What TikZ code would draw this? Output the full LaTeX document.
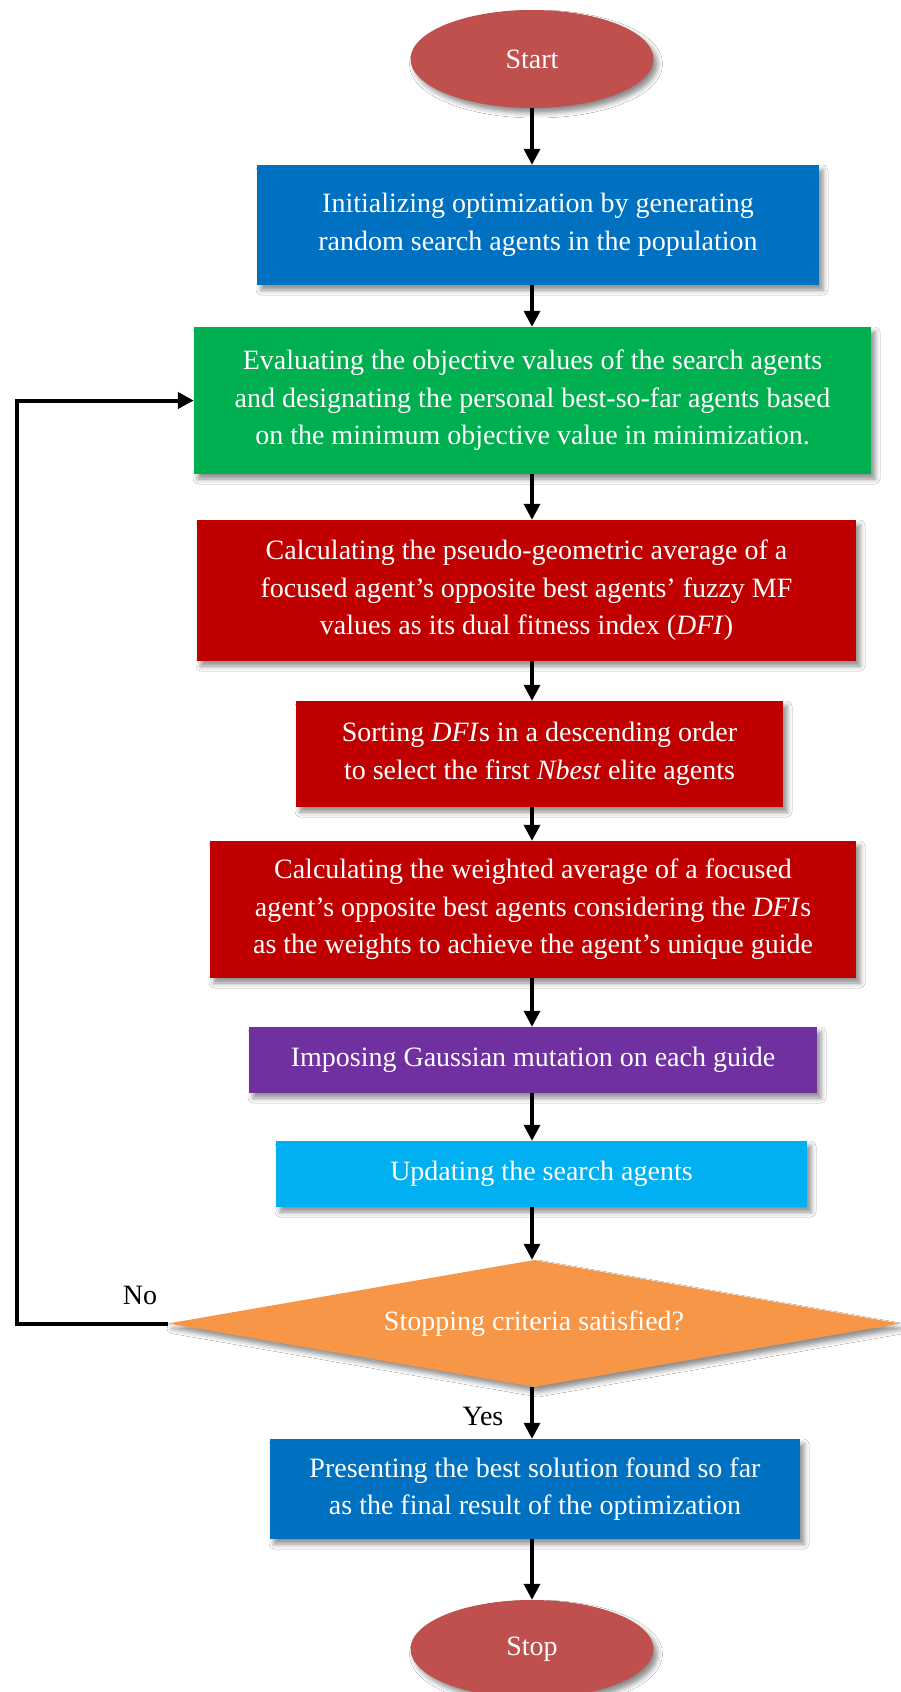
\documentclass[tikz,border=0pt]{standalone}
\usepackage{fontspec}
\setmainfont{Liberation Serif}
\usetikzlibrary{shapes.geometric,arrows.meta,shadows.blur}
\definecolor{cterm}{HTML}{C0504D}
\definecolor{cblue}{HTML}{0070C0}
\definecolor{cgreen}{HTML}{00B050}
\definecolor{cred}{HTML}{C00000}
\definecolor{cpurple}{HTML}{7030A0}
\definecolor{ccyan}{HTML}{00B0F0}
\definecolor{corange}{HTML}{F79646}
\begin{document}
\begin{tikzpicture}[x=1pt,y=1pt,
  every node/.style={font=\fontsize{28}{37.5}\selectfont},
  shd/.style={blur shadow={shadow xshift=4pt, shadow yshift=-5pt, shadow blur radius=5pt, shadow opacity=45}},
  boxnode/.style={rectangle, text=white, align=center, inner sep=0pt, shd},
  term/.style={ellipse, fill=cterm, text=white, minimum width=243pt, minimum height=98pt, inner sep=0pt, shd},
  flow/.style={line width=3.4pt, -{Triangle[width=16pt,length=16pt]}},
  loopline/.style={line width=4pt, line join=miter, -{Triangle[width=16pt,length=16pt]}},
]
\useasboundingbox[fill=white] (0,0) rectangle (901,-1692);
\coordinate (ax) at (532,0);
\coordinate (lp) at (17,0);

\node[term] (start) at (532,-59) {Start};
\node[boxnode, fill=cblue, minimum width=562pt, minimum height=120pt] (b1) at (538,-225)
  {Initializing optimization by generating\\random search agents in the population};
\node[boxnode, fill=cgreen, minimum width=677pt, minimum height=147pt] (b2) at (532.5,-400.5)
  {Evaluating the objective values of the search agents\\and designating the personal best-so-far agents based\\on the minimum objective value in minimization.};
\node[boxnode, fill=cred, minimum width=659pt, minimum height=141pt] (b3) at (526.5,-590.5)
  {Calculating the pseudo-geometric average of a\\focused agent's opposite best agents' fuzzy MF\\values as its dual fitness index (\textit{DFI})};
\node[boxnode, fill=cred, minimum width=487pt, minimum height=106pt] (b4) at (539.5,-754)
  {Sorting \textit{DFI}s in a descending order\\to select the first \textit{Nbest} elite agents};
\node[boxnode, fill=cred, minimum width=646pt, minimum height=137pt] (b5) at (533,-909.5)
  {Calculating the weighted average of a focused\\agent's opposite best agents considering the \textit{DFI}s\\as the weights to achieve the agent's unique guide};
\node[boxnode, fill=cpurple, minimum width=568pt, minimum height=66pt] (b6) at (533,-1060)
  {Imposing Gaussian mutation on each guide};
\node[boxnode, fill=ccyan, minimum width=531pt, minimum height=66pt] (b7) at (541.5,-1174)
  {Updating the search agents};
\node[diamond, fill=corange, text=white, minimum width=732pt, minimum height=127pt, inner sep=0pt, shd] (dec) at (534,-1323.5)
  {\makebox[0pt]{Stopping criteria satisfied?}};
\node[boxnode, fill=cblue, minimum width=530pt, minimum height=100pt] (b8) at (535,-1489)
  {Presenting the best solution found so far\\as the final result of the optimization};
\node[term] (stop) at (532,-1649) {Stop};

\node (no) at (140,-1295) {No};
\node (yes) at (483,-1416) {Yes};

\draw[flow] (start) -- (start |- b1.north);
\draw[flow] (b1.south -| ax) -- (b2.north -| ax);
\draw[flow] (b2.south -| ax) -- (b3.north -| ax);
\draw[flow] (b3.south -| ax) -- (b4.north -| ax);
\draw[flow] (b4.south -| ax) -- (b5.north -| ax);
\draw[flow] (b5.south -| ax) -- (b6.north -| ax);
\draw[flow] (b6.south -| ax) -- (b7.north -| ax);
\draw[flow] (b7.south -| ax) -- (dec.north -| ax);
\draw[flow] (dec.south -| ax) -- (b8.north -| ax);
\draw[flow] (b8.south -| ax) -- (stop);
\draw[loopline] (dec.west) -- (dec.west -| lp) |- (b2.west);
\end{tikzpicture}
\end{document}
